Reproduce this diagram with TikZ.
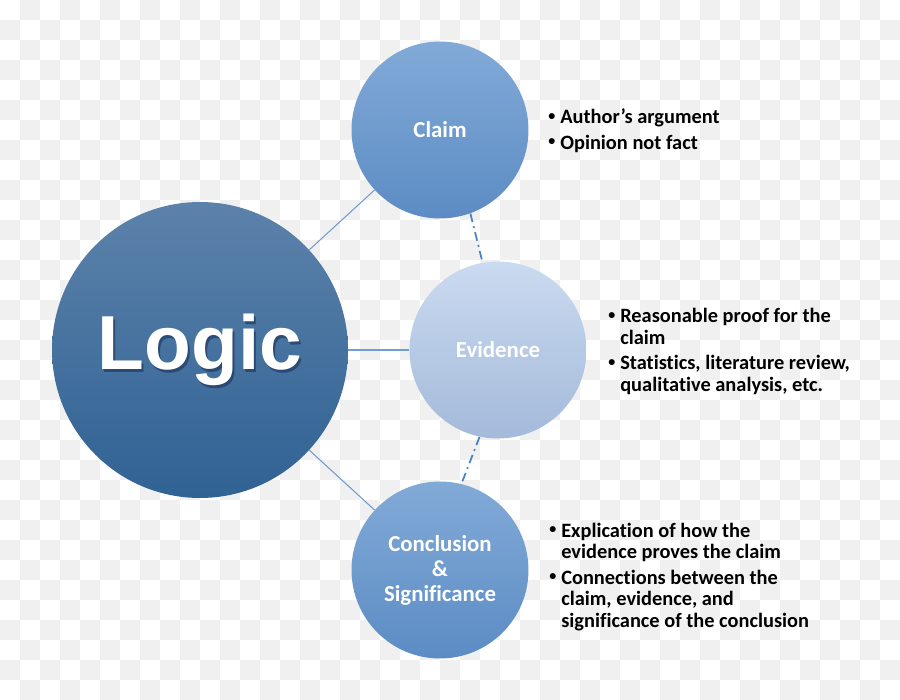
\documentclass[tikz,border=0pt]{standalone}
\usepackage{fontspec}
\setmainfont{Carlito}[Ligatures=NoCommon]
\newfontfamily\hubfont{Liberation Sans}
\usepackage{xcolor}
\usepackage{tikz}
\usetikzlibrary{positioning}

\definecolor{chk}{RGB}{240,240,240}
\definecolor{logictop}{RGB}{92,130,170}
\definecolor{logicbot}{RGB}{48,98,148}
\definecolor{logicsh}{RGB}{25,50,90}
\definecolor{claimtop}{RGB}{130,170,215}
\definecolor{claimbot}{RGB}{92,140,196}
\definecolor{evidtop}{RGB}{202,218,240}
\definecolor{evidbot}{RGB}{164,186,218}
\definecolor{linkcol}{RGB}{112,156,210}
\definecolor{dashcol}{RGB}{72,130,200}

\newcommand{\blt}{\makebox[6.8pt][l]{\raisebox{2pt}{\fontsize{8}{8}\selectfont\textbullet}}}
\newcommand{\ind}{\hspace*{6.8pt}}
\newcommand{\gap}{2.2pt}

\begin{document}
\begin{tikzpicture}[x=0.02cm, y=-0.02cm,
    hub/.style={circle, inner sep=0pt, minimum size=5.92cm,
                top color=logictop, bottom color=logicbot},
    hubtxt/.style={inner sep=0pt, text=white, font=\hubfont\bfseries\fontsize{43.6}{44}\selectfont},
    bub/.style={circle, inner sep=0pt, minimum size=3.54cm, align=center, text=white,
                font=\bfseries\fontsize{13}{14.2}\selectfont},
    mid/.style={bub, top color=claimtop, bottom color=claimbot},
    pale/.style={bub, top color=evidtop, bottom color=evidbot},
    note/.style={inner sep=0pt, align=left, anchor=base west,
                 font=\bfseries\fontsize{11.6}{12.2}\selectfont},
    link/.style={linkcol, line width=0.6pt},
    dlink/.style={dashcol, line width=1pt, dash pattern=on 5pt off 2.5pt on 1pt off 2.5pt}
  ]
  \useasboundingbox (0,0) rectangle (900,700);
  % transparent-background checkerboard, 20px squares
  \begin{scope}
    \clip (0,0) rectangle (900,700);
    \fill[white] (0,0) rectangle (900,700);
    \foreach \j in {0,...,34} {
      \foreach \i in {0,...,22} {
        \pgfmathsetmacro\xx{20*(2*\i+mod(\j+1,2))}
        \fill[chk] (\xx,20*\j) rectangle ++(20,20);
      }
    }
  \end{scope}

  \node[hub]  (logic) at (200,350) {};
  \node[mid]  (claim) at (440,130) {Claim};
  \node[pale] (evid)  at (498,350) {Evidence};
  \node[mid]  (concl) at (440,570) {Conclusion\\\&\\Significance};

  \node[hubtxt, text=logicsh, opacity=.6] (logicsh) at ([shift={(2,2.5)}]logic.center) {Logic};
  \node[hubtxt] (logictxt) at (logic.center) {Logic};

  \draw[link] (logic) -- (claim);
  \draw[link] (logic) -- (evid);
  \draw[link] (logic) -- (concl);
  \draw[dlink] (claim.-70) -- (evid.100);
  \draw[dlink] (evid.-102) -- (concl.76);

  % base anchor sits on the last line
  \node[note] (claimtxt) at (548,149)
    {\blt Author’s argument\\[\gap]\blt Opinion not fact};
  \node[note] (evidtxt) at (608,391)
    {\blt Reasonable proof for the\\\ind claim\\[\gap]\blt Statistics, literature review,\\\ind qualitative analysis, etc.};
  \node[note] (concltxt) at (549,627)
    {\blt Explication of how the\\\ind evidence proves the claim\\[\gap]\blt Connections between the\\\ind claim, evidence, and\\\ind significance of the conclusion};
\end{tikzpicture}
\end{document}
